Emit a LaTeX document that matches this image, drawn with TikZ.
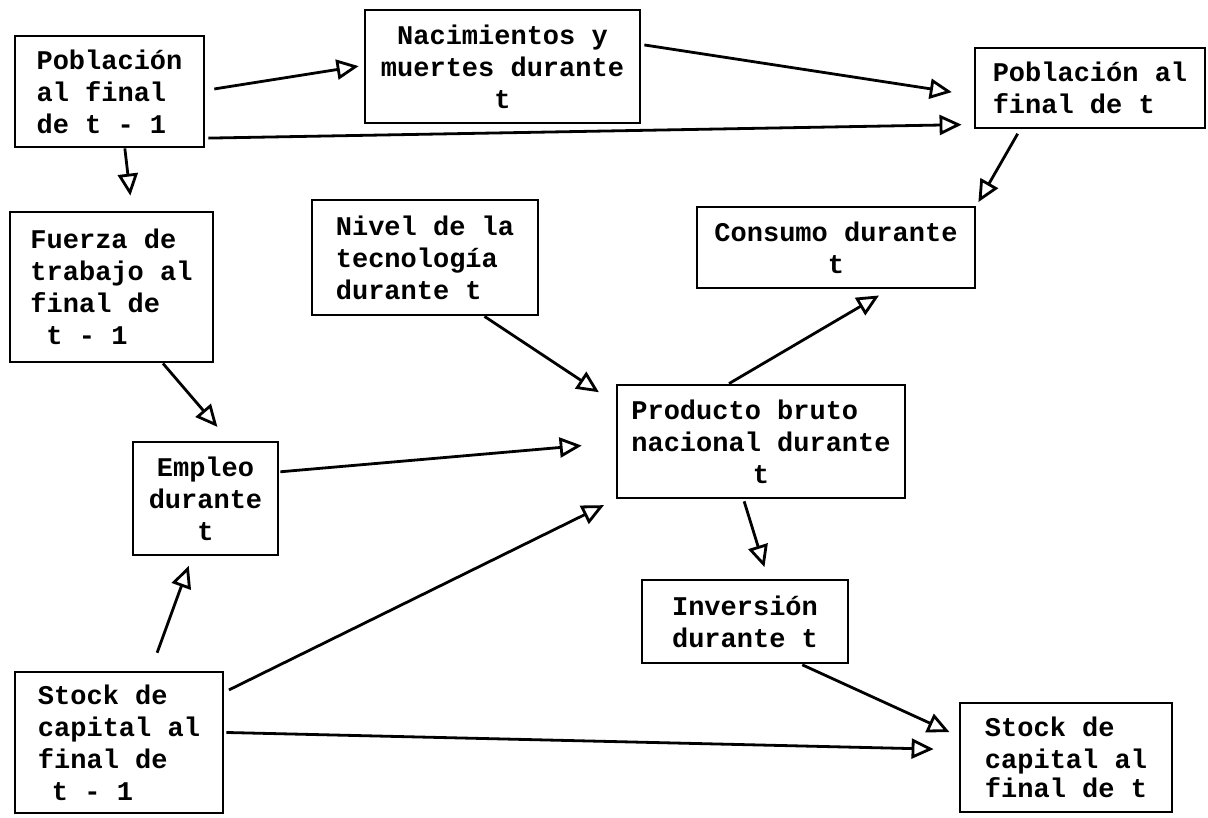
\documentclass[tikz,border=0pt]{standalone}
\usepackage{fontspec}
\setmonofont{Liberation Mono}
\usetikzlibrary{calc,arrows.meta}
\begin{document}
\begin{tikzpicture}[x=1bp,y=-1bp,
  box/.style={draw, line width=2.8bp, inner sep=2bp,
    font=\ttfamily\bfseries\fontsize{27bp}{32bp}\selectfont},
  conn/.style={line width=2.8bp,
    -{Triangle[open,length=22bp,width=20bp,line width=2.8bp]}}]
\useasboundingbox (0,0) rectangle (1208,818);

% boxes
\node[box, minimum width=189bp, minimum height=111bp, align=left] (pob0) at (109.5,91.5)
  {Población\\al final\\de t - 1};
\node[box, minimum width=275bp, minimum height=113bp, align=center] (nac) at (502.5,66.5)
  {Nacimientos y\\muertes durante\\t};
\node[box, minimum width=230bp, minimum height=80bp, align=left] (pob1) at (1090,88)
  {Población al\\final de t};
\node[box, minimum width=203bp, minimum height=150bp, align=left] (fue) at (111.5,287)
  {Fuerza de\\trabajo al\\final de\\\hspace*{16bp}t - 1};
\node[box, minimum width=226bp, minimum height=115bp, align=left] (niv) at (425,257.5)
  {Nivel de la\\tecnología\\durante t};
\node[box, minimum width=278bp, minimum height=81bp, align=center] (con) at (836,247.5)
  {Consumo durante\\t};
\node[box, minimum width=288bp, minimum height=113bp, align=center] (pbn) at (761,441.5)
  {Producto bruto\hphantom{xx}\\nacional durante\\t};
\node[box, minimum width=145bp, minimum height=113bp, align=center] (emp) at (205.5,498.5)
  {Empleo\\durante\\t};
\node[box, minimum width=206bp, minimum height=83bp, align=left] (inv) at (745,621.5)
  {Inversión\\durante t};
\node[box, minimum width=208bp, minimum height=141bp, align=left] (stk0) at (119,742.5)
  {Stock de\\capital al\\final de\\\hspace*{14bp}t - 1};
\node[box, minimum width=212bp, minimum height=109bp, align=left] (stk1) at (1066,757.5)
  {Stock de\\capital al\\[-3bp]final de t};

% connectors
\draw[conn, shorten <=9bp, shorten >=5bp]
  ($(pob0.north east)!0.49!(pob0.south east)$) -- ($(nac.north west)!0.49!(nac.south west)$);
\draw[conn, shorten <=3bp, shorten >=12bp]
  ($(pob0.north east)!0.91!(pob0.south east)$) -- ($(pob1.north west)!0.94!(pob1.south west)$);
\draw[conn, shorten <=3bp, shorten >=22bp]
  ($(nac.north east)!0.31!(nac.south east)$) -- ($(pob1.north west)!0.59!(pob1.south west)$);
\draw[conn, shorten >=15bp]
  ($(pob0.south west)!0.58!(pob0.south east)$) -- ($(fue.north west)!0.60!(fue.north east)$);
\draw[conn, shorten <=5bp, shorten >=4bp]
  ($(pob1.south west)!0.20!(pob1.south east)$) -- (con.north east);
\draw[conn, shorten >=18bp]
  ($(fue.south west)!0.75!(fue.south east)$) -- ($(emp.north west)!0.66!(emp.north east)$);
\draw[conn, shorten >=20bp]
  ($(niv.south west)!0.76!(niv.south east)$) -- ($(pbn.north west)!0.17!(pbn.south west)$);
\draw[conn, shorten <=1bp, shorten >=34bp]
  ($(emp.north east)!0.27!(emp.south east)$) -- ($(pbn.north west)!0.51!(pbn.south west)$);
\draw[conn, shorten <=5bp, shorten >=13bp]
  ($(stk0.north east)!0.15!(stk0.south east)$) -- (pbn.south west);
\draw[conn, shorten <=19bp, shorten >=10bp]
  ($(stk0.north west)!0.65!(stk0.north east)$) -- ($(emp.south west)!0.41!(emp.south east)$);
\draw[conn, shorten <=2bp, shorten >=25bp]
  ($(stk0.north east)!0.43!(stk0.south east)$) -- ($(stk1.north west)!0.43!(stk1.south west)$);
\draw[conn, shorten >=12bp]
  ($(pbn.north west)!0.39!(pbn.north east)$) -- ($(con.south west)!0.69!(con.south east)$);
\draw[conn, shorten <=2bp, shorten >=12bp]
  ($(pbn.south west)!0.44!(pbn.south east)$) -- ($(inv.north west)!0.61!(inv.north east)$);
\draw[conn, shorten <=1bp, shorten >=10bp]
  ($(inv.south west)!0.77!(inv.south east)$) -- ($(stk1.north west)!0.31!(stk1.south west)$);
\end{tikzpicture}
\end{document}
